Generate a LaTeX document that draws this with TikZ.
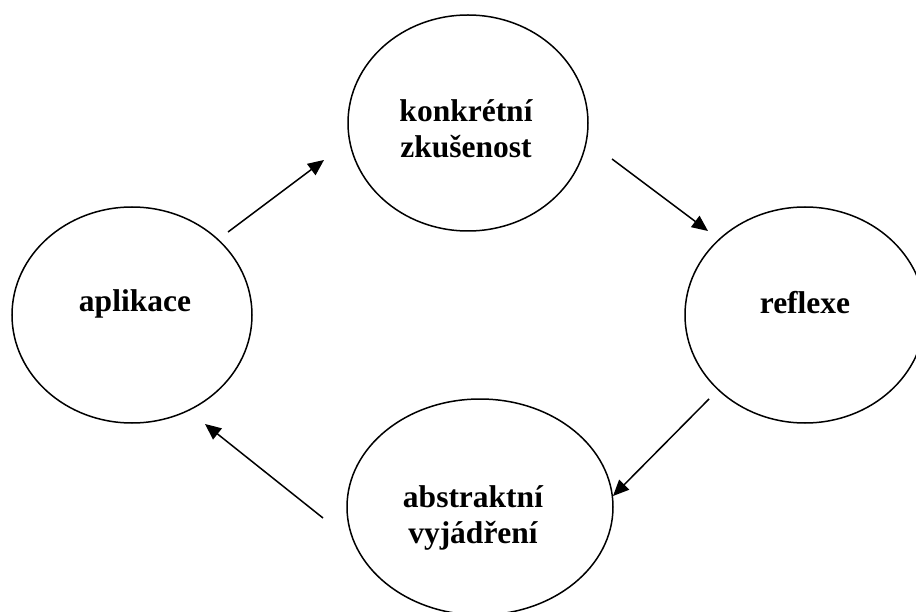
\documentclass[tikz,border=0pt]{standalone}
\usepackage{fontspec}
\setmainfont{Liberation Serif}
\usetikzlibrary{arrows.meta,shapes.geometric}
\tikzset{
  stage/.style={draw=black, line width=1.5pt, ellipse, minimum width=240pt, minimum height=216pt, inner sep=0pt},
  lbl/.style={font=\fontsize{31.5}{36}\selectfont\bfseries, align=center, anchor=base, inner sep=0pt},
  flow/.style={line width=1.5pt, -{Triangle[length=16pt,width=14pt]}}
}
\begin{document}
\begin{tikzpicture}[x=1pt,y=-1pt]
\useasboundingbox (0,0) rectangle (916,612);
\node[stage] (konk) at (468,123) {};
\node[stage] (apl) at (132,315) {};
\node[stage] (refl) at (805,315) {};
\node[stage, minimum width=266pt] (abst) at (480,507) {};
\node[lbl] (tkonk) at (466,158) {konkrétní\\zkušenost};
\node[lbl] (tapl) at (135,312) {aplikace};
\node[lbl] (trefl) at (805,314) {reflexe};
\node[lbl] (tabst) at (473,543) {abstraktní\\vyjádření};
\coordinate (a1s) at (228,232); \coordinate (a1e) at (324,160);
\coordinate (a2s) at (612,159); \coordinate (a2e) at (708,231);
\coordinate (a3s) at (709,399); \coordinate (a3e) at (613,496);
\coordinate (a4s) at (323,518); \coordinate (a4e) at (205,424);
\draw[flow] (a1s) -- (a1e);
\draw[flow] (a2s) -- (a2e);
\draw[flow] (a3s) -- (a3e);
\draw[flow] (a4s) -- (a4e);
\end{tikzpicture}
\end{document}
